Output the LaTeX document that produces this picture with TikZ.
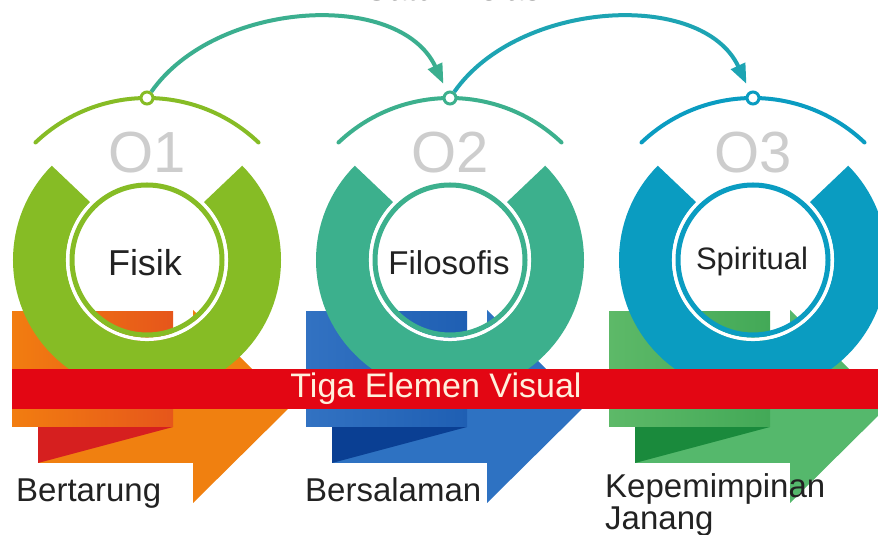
\documentclass[tikz,border=0pt]{standalone}
\usepackage{fontspec}
\setmainfont{Liberation Sans}
\usetikzlibrary{arrows.meta}
\definecolor{ringA}{HTML}{86BC25}
\definecolor{ringB}{HTML}{3CB08D}
\definecolor{ringC}{HTML}{0A9CC1}
\definecolor{arcA}{HTML}{3BAF8F}
\definecolor{arcB}{HTML}{1DA4B3}
\definecolor{orArrow}{HTML}{F08010}
\definecolor{orFold}{HTML}{D61F1F}
\definecolor{orRectL}{HTML}{F27D10}
\definecolor{orRectR}{HTML}{E6561B}
\definecolor{blArrow}{HTML}{2E72C2}
\definecolor{blFold}{HTML}{0A3F93}
\definecolor{blRectL}{HTML}{3272C2}
\definecolor{blRectR}{HTML}{1F5FB3}
\definecolor{grArrow}{HTML}{55B86C}
\definecolor{grFold}{HTML}{1A8A3C}
\definecolor{grRectL}{HTML}{5DB968}
\definecolor{grRectR}{HTML}{43A957}
\definecolor{bandRed}{HTML}{E30613}
\definecolor{titleCream}{HTML}{FFF0DC}
\definecolor{numGray}{HTML}{CDCDCD}
\definecolor{txtDark}{HTML}{222222}
\tikzset{
  marker/.style={circle, fill=white, line width=3pt, inner sep=0pt, minimum size=12pt},
  numlabel/.style={text=numGray, font=\fontsize{58}{60}\selectfont, inner sep=0pt},
  ringlabel/.style={text=txtDark, inner sep=0pt},
  bottomlabel/.style={text=txtDark, font=\fontsize{33}{37}\selectfont, inner sep=0pt, anchor=base west},
  bigarc/.style={line width=4pt, -{Triangle[length=20pt,width=15pt]}, shorten >=8pt},
}
\begin{document}
\begin{tikzpicture}[x=1pt,y=1pt]
\useasboundingbox (0,0) rectangle (878,535);
\fill[white] (0,0) rectangle (878,535);

% ribbons (arrow, fold, front rectangle)
\foreach \dx/\ca/\cb/\cc/\cd in {0/orArrow/orFold/orRectL/orRectR, 294/blArrow/blFold/blRectL/blRectR, 597/grArrow/grFold/grRectL/grRectR} {
  \begin{scope}[xshift=\dx]
    \fill[\ca] (38,72) -- (193,72) -- (193,32) -- (290,128) -- (193,225) -- (193,175) -- (38,175) -- cycle;
    \fill[\cb] (38,108) -- (173,108) -- (38,72) -- cycle;
    \shade[left color=\cc, right color=\cd] (12,108) rectangle (173,223);
  \end{scope}
}

% rings
\foreach \cx/\col in {147/ringA, 450/ringB, 753/ringC} {
  \draw[\col, line width=53pt] (\cx,275) ++(45:107.5) arc[start angle=45, end angle=-225, radius=107.5];
  \draw[white, line width=3.5pt] (\cx,275) circle[radius=79.3];
  \draw[\col, line width=5pt] (\cx,275) circle[radius=75];
  \draw[\col, line width=4pt, line cap=round] (\cx,275) ++(46.5:162) arc[start angle=46.5, end angle=133.5, radius=162];
}

% markers
\node[marker, draw=ringA] (m1) at (147,437) {};
\node[marker, draw=ringB] (m2) at (450,437) {};
\node[marker, draw=ringC] (m3) at (753,437) {};

% big arrows
\draw[bigarc, arcA] (m1) to[out=55, in=115, looseness=0.97] (m2);
\draw[bigarc, arcB] (m2) to[out=55, in=115, looseness=0.97] (m3);

% top clipped title
\node[text=txtDark, font=\fontsize{34}{36}\selectfont, anchor=base, inner sep=0pt] (top) at (457,534) {Satu Inisiasi};

% numbers
\node[numlabel] (n1) at (147,382) {O1};
\node[numlabel] (n2) at (450,382) {O2};
\node[numlabel] (n3) at (753,382) {O3};

% ring labels
\node[ringlabel, font=\fontsize{36}{40}\selectfont] (fisik) at (145,272) {Fisik};
\node[ringlabel, font=\fontsize{33}{36}\selectfont] (filo) at (449,272) {Filosofis};
\node[ringlabel, font=\fontsize{31}{34}\selectfont] (spir) at (752,274) {Spiritual};

% red band
\fill[bandRed] (12,126) rectangle (878,166);
\node[text=titleCream, font=\fontsize{34}{36}\selectfont, inner sep=0pt] (title) at (436,146) {Tiga Elemen Visual};

% bottom labels
\node[bottomlabel] (l1) at (16,33) {Bertarung};
\node[bottomlabel] (l2) at (305,33) {Bersalaman};
\node[bottomlabel] (l3) at (605,37) {Kepemimpinan};
\node[bottomlabel] (l4) at (605,5) {Janang};
\end{tikzpicture}
\end{document}
